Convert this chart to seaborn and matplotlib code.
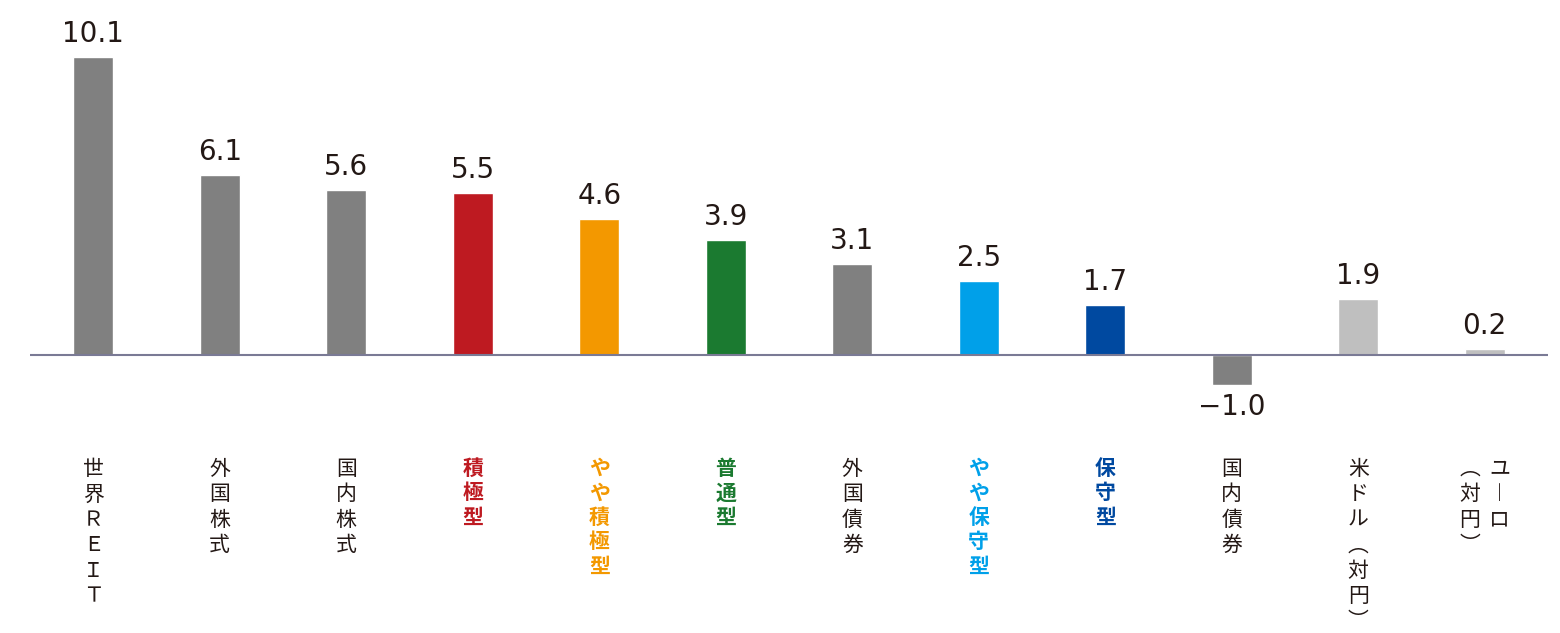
import matplotlib
matplotlib.use('Agg')
import matplotlib.pyplot as plt
import matplotlib.transforms as mtransforms
import seaborn as sns

categories = ['世界REIT', '外国株式', '国内株式', '積極型', 'やや積極型', '普通型',
              '外国債券', 'やや保守型', '保守型', '国内債券', '米ドル(対円)', 'ユーロ(対円)']
values = [10.1, 6.1, 5.6, 5.5, 4.6, 3.9, 3.1, 2.5, 1.7, -1.0, 1.9, 0.2]
value_labels = ['10.1', '6.1', '5.6', '5.5', '4.6', '3.9', '3.1', '2.5', '1.7', '−1.0', '1.9', '0.2']
bar_colors = ['#808080', '#808080', '#808080', '#be1a21', '#f39800', '#1b7a30',
              '#808080', '#00a0e9', '#0049a0', '#808080', '#bfbfbf', '#bfbfbf']
# vertical text columns for each category (right-to-left order)
label_columns = [['世界ＲＥＩＴ'], ['外国株式'], ['国内株式'], ['積極型'], ['やや積極型'], ['普通型'],
                 ['外国債券'], ['やや保守型'], ['保守型'], ['国内債券'], ['米ドル︵対円︶'],
                 ['ユ︱ロ', '︵対円︶']]
label_colors = ['#231815', '#231815', '#231815', '#be1a21', '#f39800', '#1b7a30',
                '#231815', '#00a0e9', '#0049a0', '#231815', '#231815', '#231815']
label_bold = [False, False, False, True, True, True, False, True, True, False, False, False]

sns.set_style('white')
plt.rcParams['font.family'] = ['Noto Sans CJK JP', 'DejaVu Sans']

W, H = 1560, 633
fig = plt.figure(figsize=(W / 100, H / 100), dpi=100)
# baseline at y=355px, 29.5 px per unit
ax = fig.add_axes([30 / W, 1 - 440 / H, 1518 / W, 440 / H])
ax.set_xlim(-0.5, 11.5)
ax.set_ylim(-85 / 29.5, 355 / 29.5)

sns.barplot(x=categories, y=values, hue=categories, palette=bar_colors,
            legend=False, width=0.32, ax=ax, saturation=1)
ax.set_xlim(-0.5, 11.5)
ax.axhline(0, color='#7a7a95', lw=1.5, zorder=3)
for s in ax.spines.values():
    s.set_visible(False)
ax.set_xticks([])
ax.set_yticks([])
ax.set_xlabel('')
ax.set_ylabel('')

for i, (v, lab) in enumerate(zip(values, value_labels)):
    if v >= 0:
        ax.text(i, v + 0.3, lab, ha='center', va='bottom', fontsize=20,
                color='#231815', family=['DejaVu Sans'])
    else:
        ax.text(i, v - 0.3, lab, ha='center', va='top', fontsize=20,
                color='#231815', family=['DejaVu Sans'])

trans = mtransforms.blended_transform_factory(ax.transData, fig.transFigure)
for i, cols in enumerate(label_columns):
    n = len(cols)
    for j, col in enumerate(cols):
        dx = (n - 1 - 2 * j) * 0.12 if n > 1 else 0
        ax.text(i + dx, 1 - 458 / H, '\n'.join(col), transform=trans, ha='center', va='top',
                fontsize=15, color=label_colors[i], linespacing=1.2,
                fontweight='bold' if label_bold[i] else 'normal')

fig.savefig('out.png', dpi=100)
